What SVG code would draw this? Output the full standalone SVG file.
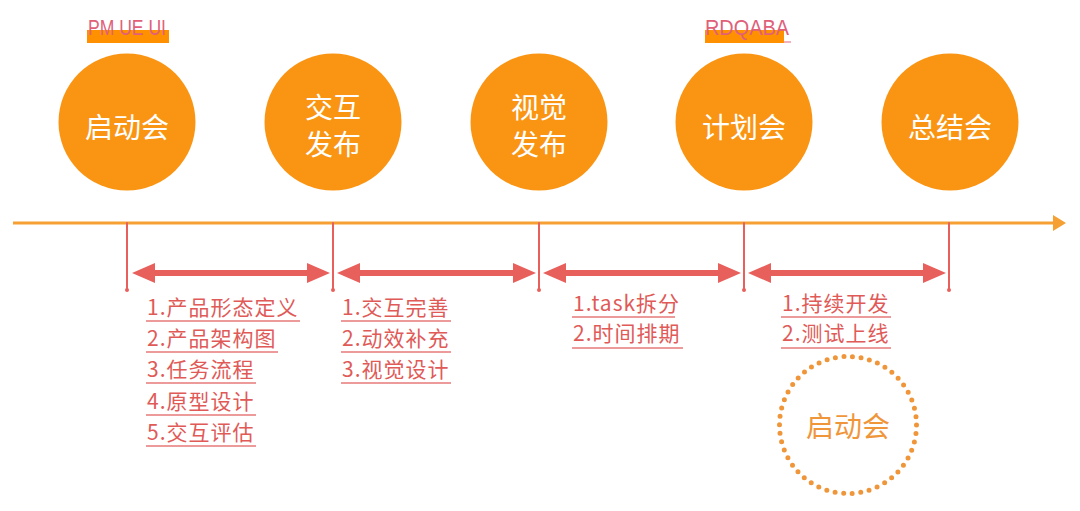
<svg xmlns="http://www.w3.org/2000/svg" width="1080" height="511" viewBox="0 0 1080 511">
<defs>
<style>
.milestone{fill:#FA9514;}
.mtxt{fill:#FFFFFF;font-family:"Noto Sans CJK SC","Noto Sans",sans-serif;font-size:28px;text-anchor:middle;}
.tick{stroke:#E8605C;stroke-width:2;stroke-linecap:round;fill:none;}
.span{stroke:#E8605C;stroke-width:6;fill:none;}
.ah{fill:#E8605C;}
.item{fill:#E05A58;font-family:"Noto Sans CJK SC","Noto Sans",sans-serif;font-size:21px;letter-spacing:1px;}
.ul{stroke:#E77A78;stroke-width:1.5;}
.hl{fill:#FF9100;}
.tag{fill:#E0607A;font-family:"Liberation Sans","Noto Sans",sans-serif;font-size:22px;}
</style>
</defs>
<rect width="1080" height="511" fill="#FFFFFF"/>

<g id="tag-pm">
<rect class="hl" x="87" y="30" width="82" height="13"/>
<text class="tag" x="88" y="35" textLength="78" lengthAdjust="spacingAndGlyphs">PM UE UI</text>
</g>
<g id="tag-rd">
<rect class="hl" x="705" y="30" width="79" height="13"/>
<line x1="784" y1="42" x2="791" y2="42" stroke="#E0607A" stroke-width="1"/>
<text class="tag" x="705" y="35" textLength="84" lengthAdjust="spacingAndGlyphs">RDQABA</text>
</g>

<g id="node-kickoff">
<circle class="milestone" cx="127" cy="122" r="68.5"/>
<text class="mtxt" x="127" y="138">启动会</text>
</g>
<g id="node-interaction">
<circle class="milestone" cx="333" cy="122" r="68.5"/>
<text class="mtxt" x="333" y="118">交互</text>
<text class="mtxt" x="333" y="155">发布</text>
</g>
<g id="node-visual">
<circle class="milestone" cx="539" cy="122" r="68.5"/>
<text class="mtxt" x="539" y="118">视觉</text>
<text class="mtxt" x="539" y="155">发布</text>
</g>
<g id="node-plan">
<circle class="milestone" cx="744" cy="122" r="68.5"/>
<text class="mtxt" x="744" y="138">计划会</text>
</g>
<g id="node-summary">
<circle class="milestone" cx="950" cy="122" r="68.5"/>
<text class="mtxt" x="950" y="138">总结会</text>
</g>

<g id="connectors">
<line x1="13" y1="223" x2="1054" y2="223" stroke="#F6A033" stroke-width="3"/>
<polygon points="1053,215 1066,223 1053,231" fill="#F6A033"/>
<line class="tick" x1="127" y1="223" x2="127" y2="290"/>
<line class="tick" x1="333" y1="223" x2="333" y2="290"/>
<line class="tick" x1="539" y1="223" x2="539" y2="290"/>
<line class="tick" x1="744" y1="223" x2="744" y2="290"/>
<line class="tick" x1="949" y1="223" x2="949" y2="290"/>
<circle class="ah" cx="127" cy="290" r="2"/>
<circle class="ah" cx="333" cy="290" r="2"/>
<circle class="ah" cx="539" cy="290" r="2"/>
<circle class="ah" cx="744" cy="290" r="2"/>
<circle class="ah" cx="949" cy="290" r="2"/>

<line class="span" x1="150" y1="273" x2="310" y2="273"/>
<polygon class="ah" points="132,273 155,263 155,283"/>
<polygon class="ah" points="330,273 307,263 307,283"/>

<line class="span" x1="356" y1="273" x2="516" y2="273"/>
<polygon class="ah" points="337,273 360,263 360,283"/>
<polygon class="ah" points="536,273 513,263 513,283"/>

<line class="span" x1="562" y1="273" x2="721" y2="273"/>
<polygon class="ah" points="543,273 566,263 566,283"/>
<polygon class="ah" points="741,273 718,263 718,283"/>

<line class="span" x1="767" y1="273" x2="926" y2="273"/>
<polygon class="ah" points="748,273 771,263 771,283"/>
<polygon class="ah" points="946,273 923,263 923,283"/>
</g>

<g id="list-1">
<text class="item" x="147" y="315">1.产品形态定义</text>
<line class="ul" x1="146" y1="321" x2="300" y2="321"/>
<text class="item" x="147" y="346">2.产品架构图</text>
<line class="ul" x1="146" y1="352" x2="278" y2="352"/>
<text class="item" x="147" y="377">3.任务流程</text>
<line class="ul" x1="146" y1="383" x2="256" y2="383"/>
<text class="item" x="147" y="409">4.原型设计</text>
<line class="ul" x1="146" y1="415" x2="256" y2="415"/>
<text class="item" x="147" y="440">5.交互评估</text>
<line class="ul" x1="146" y1="446" x2="256" y2="446"/>
</g>
<g id="list-2">
<text class="item" x="342" y="315">1.交互完善</text>
<line class="ul" x1="341" y1="321" x2="451" y2="321"/>
<text class="item" x="342" y="346">2.动效补充</text>
<line class="ul" x1="341" y1="352" x2="451" y2="352"/>
<text class="item" x="342" y="377">3.视觉设计</text>
<line class="ul" x1="341" y1="383" x2="451" y2="383"/>
</g>
<g id="list-3">
<text class="item" x="573" y="311">1.task拆分</text>
<line class="ul" x1="572" y1="317" x2="675" y2="317"/>
<text class="item" x="573" y="341">2.时间排期</text>
<line class="ul" x1="572" y1="348" x2="683" y2="348"/>
</g>
<g id="list-4">
<text class="item" x="782" y="311">1.持续开发</text>
<line class="ul" x1="781" y1="317" x2="891" y2="317"/>
<text class="item" x="782" y="341">2.测试上线</text>
<line class="ul" x1="781" y1="348" x2="891" y2="348"/>
</g>

<g id="node-next-kickoff">
<circle cx="848" cy="425" r="68.5" fill="none" stroke="#F0963A" stroke-width="5" stroke-linecap="round" stroke-dasharray="0 8.6"/>
<text x="848" y="437" fill="#F0963A" font-family="'Noto Sans CJK SC','Noto Sans',sans-serif" font-size="28" text-anchor="middle">启动会</text>
</g>
</svg>
